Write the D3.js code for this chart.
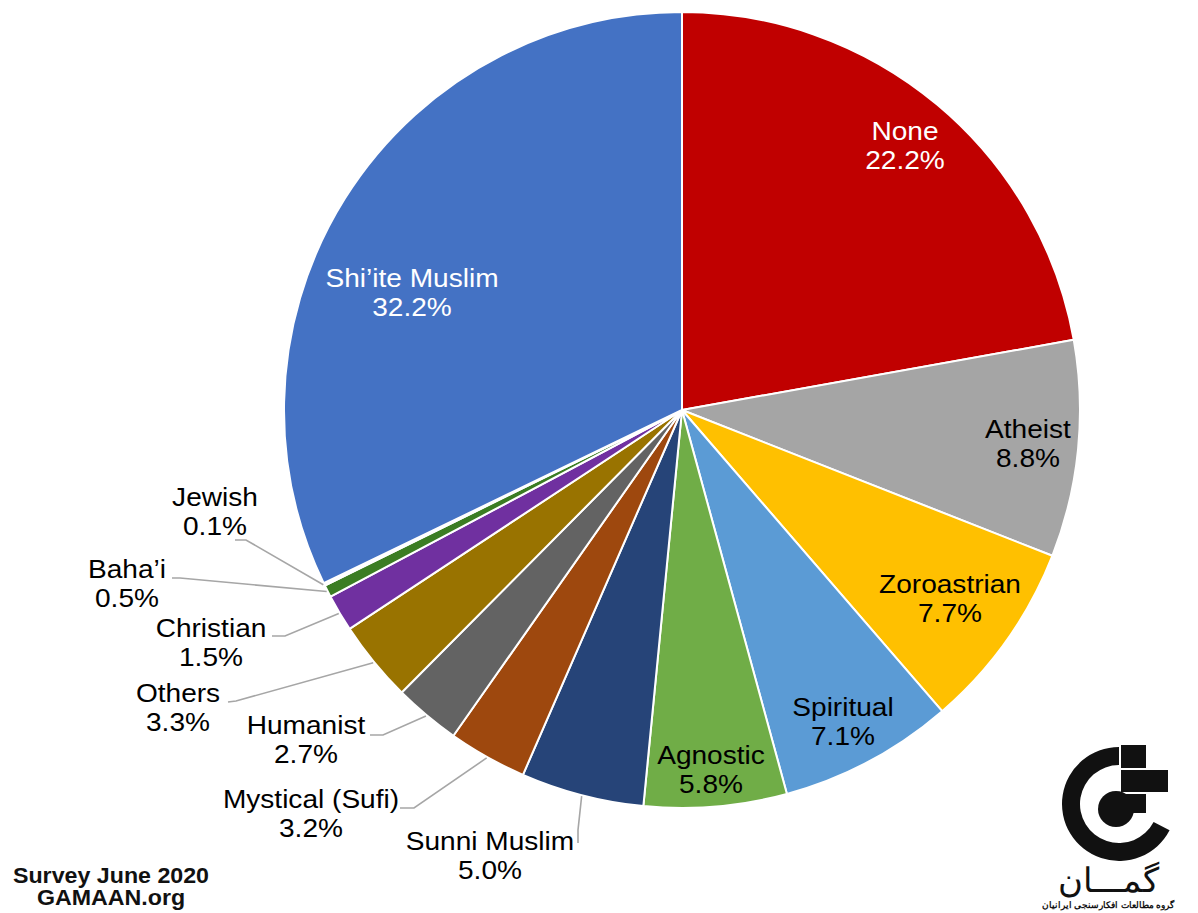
<!DOCTYPE html>
<html><head><meta charset="utf-8">
<script src="https://cdn.jsdelivr.net/npm/d3@7"></script>
<style>
html,body{margin:0;padding:0;background:#fff;}
svg{display:block;}
text{font-family:"Liberation Sans",Arial,Helvetica,sans-serif;}
</style></head>
<body>
<svg id="chart" width="1198" height="913"></svg>
<script>
// ---- data ----
const categories = ["None","Atheist","Zoroastrian","Spiritual","Agnostic","Sunni Muslim","Mystical (Sufi)","Humanist","Others","Christian","Baha\u2019i","Jewish","Shi\u2019ite Muslim"];
const values = [22.2, 8.8, 7.7, 7.1, 5.8, 5.0, 3.2, 2.7, 3.3, 1.5, 0.5, 0.1, 32.2];
const valueLabels = ["22.2%","8.8%","7.7%","7.1%","5.8%","5.0%","3.2%","2.7%","3.3%","1.5%","0.5%","0.1%","32.2%"];
const colors = ["#C00000","#A5A5A5","#FFC000","#5B9BD5","#70AD47","#264478","#9E480E","#636363","#997300","#7030A0","#3B7D23","#F7F7F7","#4472C4"];
const footerLines = ["Survey June 2020","GAMAAN.org"];

// ---- layout ----
const cx = 682, cy = 410, R = 398;
// label anchor: [x, baseline of first line, fill]
const labelLayout = [
  [905,140,"#fff"],[1028,438,"#000"],[950,593,"#000"],[843,716,"#000"],[711,764,"#000"],
  [490,850,"#000"],[311,808,"#000"],[306,734,"#000"],[178,702,"#000"],[211,637,"#000"],
  [127,578,"#000"],[215,506,"#000"],[412,287,"#fff"]
];
// leader lines: index -> [startX,startY, elbowX, elbowY]
const leaders = {
  11:[235,540,246,540],
  10:[172,578,180,578],
  9:[272,636,285,636],
  8:[228,702,236,701],
  7:[370,735,383,735],
  6:[400,808,414,808],
  5:[578,843,578,830]
};

const svg = d3.select("#chart");
const g = svg.append("g").attr("transform",`translate(${cx},${cy})`);
const pie = d3.pie().sort(null).value(d=>d)(values);
const arc = d3.arc().innerRadius(0).outerRadius(R);

g.selectAll("path.slice").data(pie).enter().append("path")
  .attr("class","slice")
  .attr("d",arc)
  .attr("fill",(d,i)=>colors[i])
  .attr("stroke","#fff").attr("stroke-width",2).attr("stroke-linejoin","round");

// leader lines
Object.keys(leaders).forEach(k=>{
  const i=+k, d=pie[i], a=(d.startAngle+d.endAngle)/2;
  const ex = cx + Math.sin(a)*(R+1), ey = cy - Math.cos(a)*(R+1);
  const L = leaders[k];
  svg.append("polyline")
    .attr("points",`${L[0]},${L[1]} ${L[2]},${L[3]} ${ex},${ey}`)
    .attr("fill","none").attr("stroke","#A6A6A6").attr("stroke-width",1.6);
});

// labels
categories.forEach((c,i)=>{
  const [x,y,f]=labelLayout[i];
  const t = svg.append("g").attr("transform",`translate(${x},${y}) scale(1.08,1)`);
  t.append("text").attr("text-anchor","middle").attr("font-size",26).attr("fill",f).text(c);
  t.append("text").attr("text-anchor","middle").attr("y",29).attr("font-size",26).attr("fill",f).text(valueLabels[i]);
});

// footer
footerLines.forEach((s,i)=>{
  svg.append("g").attr("transform",`translate(111,${883+i*22}) scale(1.08,1)`)
    .append("text").attr("text-anchor","middle").attr("font-size",21.5).attr("font-weight","bold").attr("fill","#111").text(s);
});

// logo
const logo = svg.append("g").attr("fill","#111");
const ring = d3.arc().innerRadius(39).outerRadius(57).startAngle(2.05).endAngle(Math.PI*2);
logo.append("path").attr("transform","translate(1119,804)").attr("d",ring({}));
logo.append("circle").attr("cx",1116).attr("cy",809).attr("r",18);
logo.append("rect").attr("x",1121).attr("y",745).attr("width",25).attr("height",23);
logo.append("rect").attr("x",1121).attr("y",770).attr("width",47).attr("height",22);
logo.append("rect").attr("x",1121).attr("y",794).attr("width",25).attr("height",19);
logo.append("text").attr("x",1108).attr("y",892).attr("text-anchor","middle").attr("font-family","DejaVu Sans").attr("font-size",34).attr("fill","#111").text("گمـــان");
logo.append("text").attr("x",1108).attr("y",908).attr("text-anchor","middle").attr("font-family","DejaVu Sans").attr("font-size",8.5).attr("font-weight","bold").attr("fill","#111").text("گروه مطالعات افکارسنجی ایرانیان");
</script>
</body></html>
